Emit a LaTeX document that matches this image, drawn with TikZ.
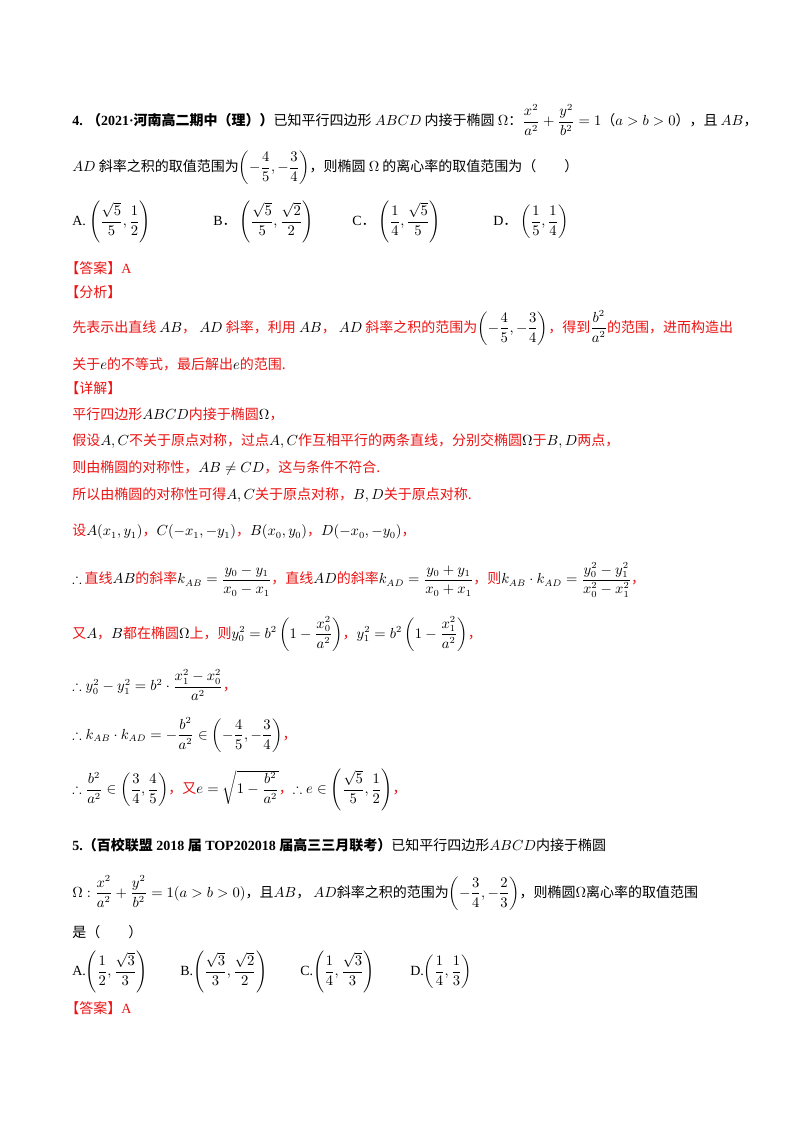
\documentclass[tikz,border=0pt]{standalone}
\usepackage{amsmath,amssymb}
\usepackage{fontspec}
\setmainfont{Noto Sans CJK SC}
\newfontfamily\lat{Liberation Serif}
\definecolor{myred}{RGB}{235,20,20}
\newcommand{\R}[1]{{\color{myred}#1}}
\newcommand{\Lt}[1]{{\lat #1}}
\begin{document}
\begin{tikzpicture}[x=0.75pt,y=-0.75pt,
  ln/.style={anchor=west,inner sep=0pt,font=\fontsize{10.5}{13}\selectfont}]
\useasboundingbox (0,0) rectangle (800,1132);
\fill[white] (0,0) rectangle (800,1132);
% Q4
\node[ln] (l1) at (72,120) {{\bfseries\Lt{4.} （\Lt{2021·}河南高二期中（理））}已知平行四边形 $ABCD$ 内接于椭圆 $\Omega$：$\dfrac{x^2}{a^2}+\dfrac{y^2}{b^2}=1$（$a>b>0$），且 $AB$，};
\node[ln] (l2) at (72,168) {$AD$ 斜率之积的取值范围为$\left(-\dfrac45,-\dfrac34\right)$，则椭圆 $\Omega$ 的离心率的取值范围为（\qquad）};
\node[ln] (oA) at (72,222) {\Lt{A.} $\left(\dfrac{\sqrt5}{5},\dfrac12\right)$};
\node[ln] (oB) at (213,222) {\Lt{B}． $\left(\dfrac{\sqrt5}{5},\dfrac{\sqrt2}{2}\right)$};
\node[ln] (oC) at (352,222) {\Lt{C}． $\left(\dfrac14,\dfrac{\sqrt5}{5}\right)$};
\node[ln] (oD) at (493,222) {\Lt{D}． $\left(\dfrac15,\dfrac14\right)$};
\node[ln] (ans) at (65,268) {\R{【答案】\Lt{A}}};
\node[ln] (fx) at (65,292) {\R{【分析】}};
\node[ln] (a1) at (72,328) {\R{先表示出直线} $AB$\R{，} $AD$ \R{斜率，利用} $AB$\R{，} $AD$ \R{斜率之积的范围为}$\left(-\dfrac45,-\dfrac34\right)$\R{，得到}$\dfrac{b^2}{a^2}$\R{的范围，进而构造出}};
\node[ln] (a2) at (72,364) {\R{关于}$e$\R{的不等式，最后解出}$e$\R{的范围.}};
\node[ln] (xj) at (65,388) {\R{【详解】}};
\node[ln] (d1) at (72,414) {\R{平行四边形}$ABCD$\R{内接于椭圆}$\Omega$\R{，}};
\node[ln] (d2) at (72,441) {\R{假设}$A,C$\R{不关于原点对称，过点}$A,C$\R{作互相平行的两条直线，分别交椭圆}$\Omega$\R{于}$B,D$\R{两点，}};
\node[ln] (d3) at (72,468) {\R{则由椭圆的对称性，}$AB\neq CD$\R{，这与条件不符合.}};
\node[ln] (d4) at (72,495) {\R{所以由椭圆的对称性可得}$A,C$\R{关于原点对称，}$B,D$\R{关于原点对称.}};
\node[ln] (d5) at (72,532) {\R{设}$A(x_1,y_1)$\R{，}$C(-x_1,-y_1)$\R{，}$B(x_0,y_0)$\R{，}$D(-x_0,-y_0)$\R{，}};
\node[ln] (d6) at (72,580) {$\therefore$\ \R{直线}$AB$\R{的斜率}$k_{AB}=\dfrac{y_0-y_1}{x_0-x_1}$\R{，直线}$AD$\R{的斜率}$k_{AD}=\dfrac{y_0+y_1}{x_0+x_1}$\R{，则}$k_{AB}\cdot k_{AD}=\dfrac{y_0^2-y_1^2}{x_0^2-x_1^2}$\R{，}};
\node[ln] (d7) at (72,634) {\R{又}$A$\R{，}$B$\R{都在椭圆}$\Omega$\R{上，则}$y_0^2=b^2\left(1-\dfrac{x_0^2}{a^2}\right)$\R{，}$y_1^2=b^2\left(1-\dfrac{x_1^2}{a^2}\right)$\R{，}};
\node[ln] (d8) at (72,685) {$\therefore y_0^2-y_1^2=b^2\cdot\dfrac{x_1^2-x_0^2}{a^2}$\R{，}};
\node[ln] (d9) at (72,735) {$\therefore k_{AB}\cdot k_{AD}=-\dfrac{b^2}{a^2}\in\left(-\dfrac45,-\dfrac34\right)$\R{，}};
\node[ln] (d10) at (72,790) {$\therefore \dfrac{b^2}{a^2}\in\left(\dfrac34,\dfrac45\right)$\R{，又}$e=\sqrt{1-\dfrac{b^2}{a^2}}$\R{，}$\therefore e\in\left(\dfrac{\sqrt5}{5},\dfrac12\right)$\R{，}};
% Q5
\node[ln] (q1) at (72,845) {{\bfseries\Lt{5.}（百校联盟\Lt{ 2018 }届\Lt{ TOP202018 }届高三三月联考）}已知平行四边形$ABCD$内接于椭圆};
\node[ln] (q2) at (72,893) {$\Omega:\dfrac{x^2}{a^2}+\dfrac{y^2}{b^2}=1(a>b>0)$，且$AB$，\ $AD$斜率之积的范围为$\left(-\dfrac34,-\dfrac23\right)$，则椭圆$\Omega$离心率的取值范围};
\node[ln] (q3) at (72,932) {是（\qquad）};
\node[ln] (pA) at (72,972) {\Lt{A.}$\left(\dfrac12,\dfrac{\sqrt3}{3}\right)$};
\node[ln] (pB) at (180,972) {\Lt{B.}$\left(\dfrac{\sqrt3}{3},\dfrac{\sqrt2}{2}\right)$};
\node[ln] (pC) at (300,972) {\Lt{C.}$\left(\dfrac14,\dfrac{\sqrt3}{3}\right)$};
\node[ln] (pD) at (410,972) {\Lt{D.}$\left(\dfrac14,\dfrac13\right)$};
\node[ln] (ans2) at (65,1008) {\R{【答案】\Lt{A}}};
\end{tikzpicture}
\end{document}
